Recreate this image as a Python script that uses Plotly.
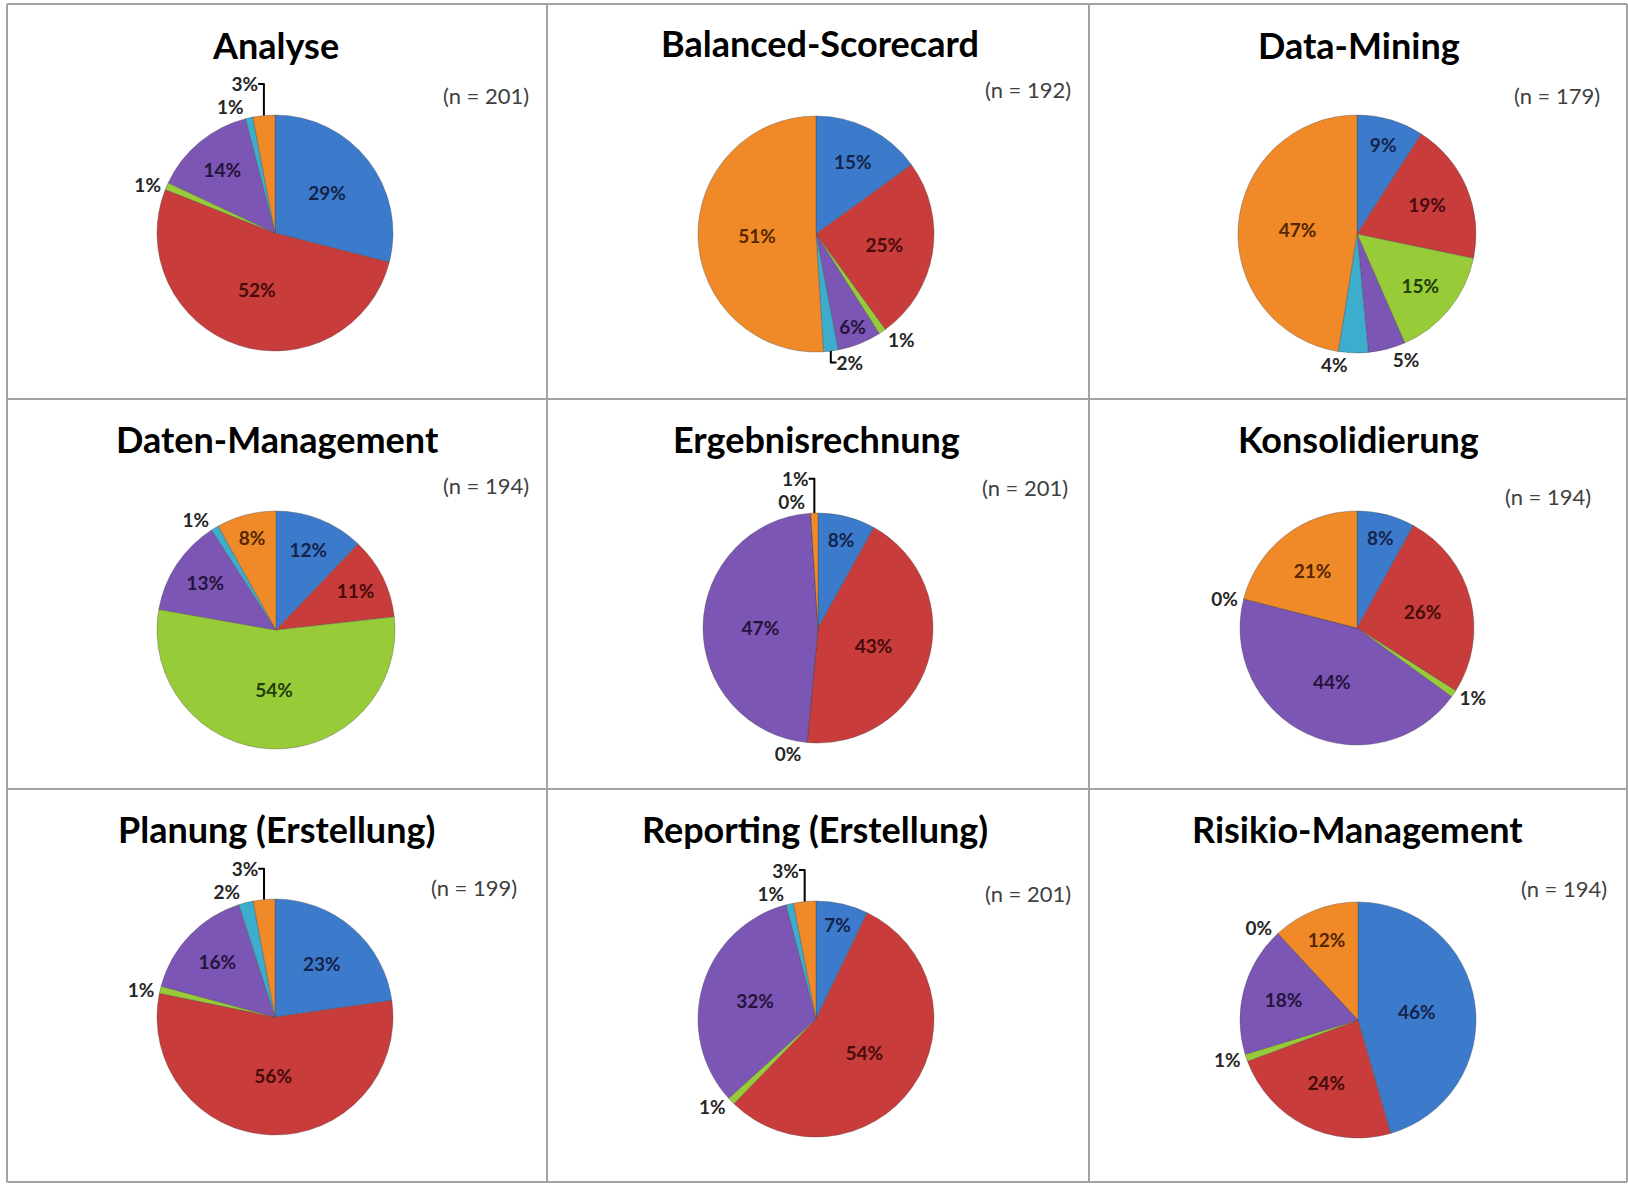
import plotly.graph_objects as go

W, H = 1628, 1184

# Answer categories, clockwise from 12 o'clock
categories = ["Kategorie 1", "Kategorie 2", "Kategorie 3", "Kategorie 4", "Kategorie 5", "Kategorie 6"]

titles = [
    "Analyse", "Balanced-Scorecard", "Data-Mining",
    "Daten-Management", "Ergebnisrechnung", "Konsolidierung",
    "Planung (Erstellung)", "Reporting (Erstellung)", "Risikio-Management",
]
n_values = [201, 192, 179, 194, 201, 194, 199, 201, 194]

# Shares in percent per category
analyse = [29, 52, 1, 14, 1, 3]
balanced_scorecard = [15, 25, 1, 6, 2, 51]
data_mining = [9, 19, 15, 5, 4, 47]
daten_management = [12, 11, 54, 13, 1, 8]
ergebnisrechnung = [8, 43, 0, 47, 0, 1]
konsolidierung = [8, 26, 1, 44, 0, 21]
planung = [23, 56, 1, 16, 2, 3]
reporting = [7, 54, 1, 32, 1, 3]
risiko_management = [46, 24, 1, 18, 0, 12]

series = [analyse, balanced_scorecard, data_mining,
          daten_management, ergebnisrechnung, konsolidierung,
          planung, reporting, risiko_management]

slice_colors = ["#3C7BCC", "#C93C3C", "#98CB38", "#7C56B4", "#3CADCC", "#F08A28"]
inside_text_colors = ["#14234a", "#460b0b", "#223c0b", "#24143c", "#0b3442", "#552600"]
outside_text_color = "#262626"

# Layout of the 3x3 panel grid (pixels)
col_lines = [7, 547, 1089, 1627]
row_lines = [4, 399, 789, 1182]
pie_geom = [  # centre x, centre y, radius
    (275, 233, 118), (816, 234, 118), (1357, 234, 119),
    (276, 630, 119), (818, 628, 115), (1357, 628, 117),
    (275, 1017, 118), (816, 1019, 118), (1358, 1020, 118),
]
title_pos = [
    (275, 45), (820, 43), (1359, 45),
    (277, 439), (816, 439), (1358, 439),
    (276, 829), (815, 829), (1357, 829),
]
n_pos = [
    (486, 95), (1028, 90), (1557, 95),
    (486, 485), (1025, 487), (1548, 497),
    (474, 887), (1028, 893), (1564, 888),
]

FONT = "Lato"

fig = go.Figure()

for vals, (cx, cy, r) in zip(series, pie_geom):
    positions = ["outside" if v < 6 else "inside" for v in vals]
    tcolors = [outside_text_color if p == "outside" else inside_text_colors[i]
               for i, p in enumerate(positions)]
    fig.add_trace(go.Pie(
        labels=categories,
        values=vals,
        sort=False,
        direction="clockwise",
        rotation=0,
        texttemplate="%{value}%",
        textposition=positions,
        insidetextorientation="horizontal",
        textfont=dict(family=FONT, size=19, color=tcolors, weight="bold"),
        marker=dict(colors=slice_colors, line=dict(color="rgba(70,70,70,0.35)", width=1)),
        domain=dict(x=[(cx - r) / W, (cx + r) / W],
                    y=[1 - (cy + r) / H, 1 - (cy - r) / H]),
        showlegend=False,
        hoverinfo="label+value",
    ))

annotations = []
for t, (x, y) in zip(titles, title_pos):
    annotations.append(dict(
        text=f"<b>{t}</b>", x=x / W, y=1 - y / H, xref="paper", yref="paper",
        xanchor="center", yanchor="middle", showarrow=False,
        font=dict(family=FONT, size=36, color="#000000"),
    ))
for n, (x, y) in zip(n_values, n_pos):
    annotations.append(dict(
        text=f"(n = {n})", x=x / W, y=1 - y / H, xref="paper", yref="paper",
        xanchor="center", yanchor="middle", showarrow=False,
        font=dict(family=FONT, size=22, color="#404040"),
    ))

shapes = []
for x in col_lines:
    shapes.append(dict(type="line", xref="paper", yref="paper",
                       x0=x / W, x1=x / W, y0=1 - row_lines[0] / H, y1=1 - row_lines[-1] / H,
                       line=dict(color="#a3a3a3", width=2)))
for y in row_lines:
    shapes.append(dict(type="line", xref="paper", yref="paper",
                       x0=col_lines[0] / W, x1=col_lines[-1] / W, y0=1 - y / H, y1=1 - y / H,
                       line=dict(color="#a3a3a3", width=2)))

fig.update_layout(
    width=W, height=H,
    margin=dict(l=0, r=0, t=0, b=0),
    paper_bgcolor="white", plot_bgcolor="white",
    annotations=annotations, shapes=shapes,
)

fig.write_html("out.html")
